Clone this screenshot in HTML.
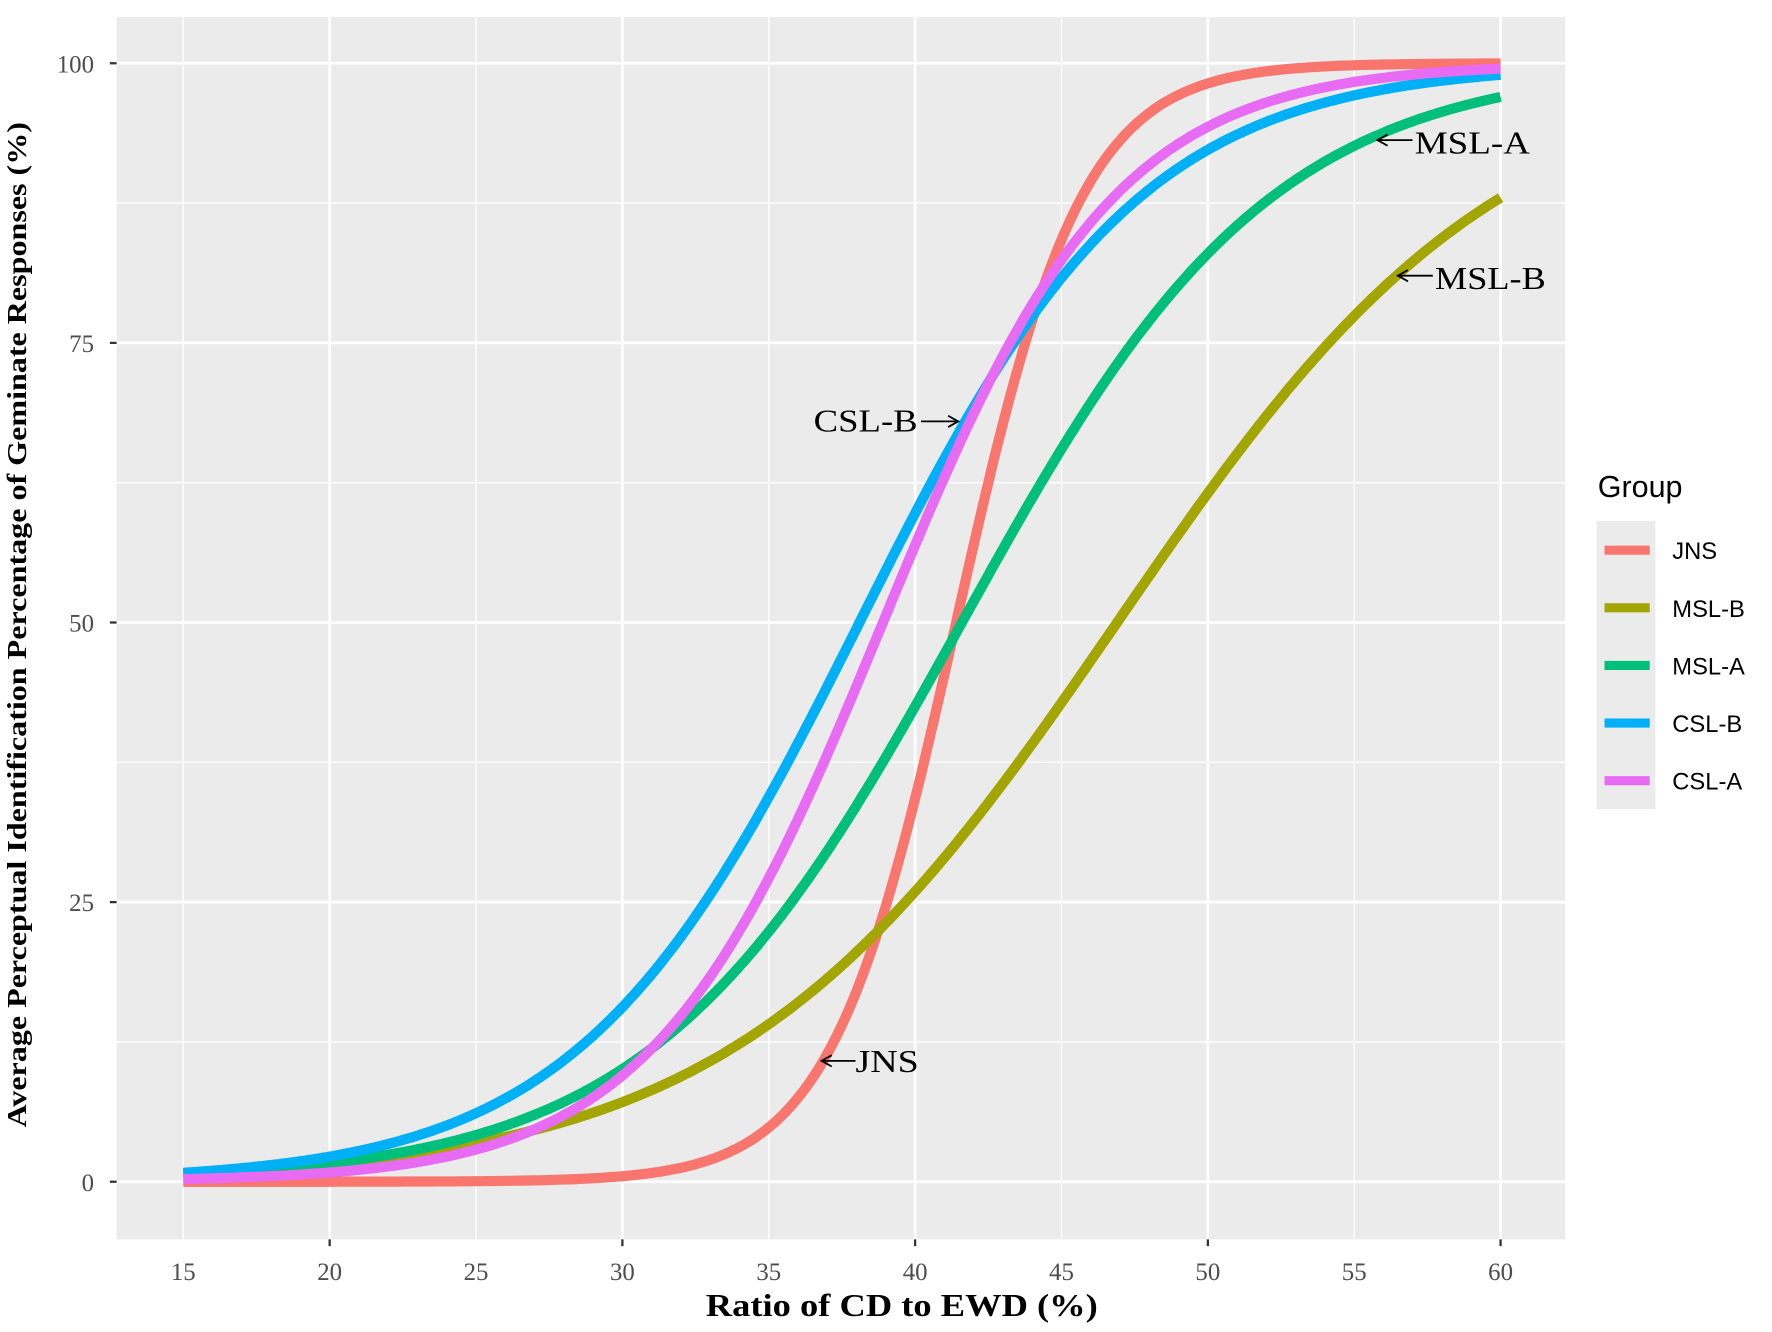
<!DOCTYPE html>
<html><head><meta charset="utf-8"><style>
html,body{margin:0;padding:0;background:#fff;width:1772px;height:1332px;overflow:hidden}
svg{display:block}
.serif{font-family:"Liberation Serif",serif}
.sans{font-family:"Liberation Sans",sans-serif}
</style></head><body>
<svg id="s" width="1772" height="1332" viewBox="0 0 1568 1179" xmlns="http://www.w3.org/2000/svg">
<rect x="0" y="0" width="1568" height="1179" fill="#fff"/>
<rect x="103" y="15" width="1282" height="1082" fill="#ebebeb"/>
<g id="grid"></g>
<g id="curves" fill="none" stroke-width="9" stroke-linecap="butt"></g>
<g class="serif" font-size="28" fill="#000">
<text x="1252" y="136" textLength="102" lengthAdjust="spacingAndGlyphs">MSL-A</text>
<text x="1270" y="256" textLength="98" lengthAdjust="spacingAndGlyphs">MSL-B</text>
<text x="720" y="382" textLength="92" lengthAdjust="spacingAndGlyphs">CSL-B</text>
<text x="757" y="949" textLength="56" lengthAdjust="spacingAndGlyphs">JNS</text>
</g>
<g stroke="#000" stroke-width="1.6" fill="none">
<path d="M1250 124 H1220 M1228 119 L1219 124 L1228 129"/>
<path d="M1268 244 H1238 M1246 239 L1237 244 L1246 249"/>
<path d="M815 373 H847 M839 368 L848 373 L839 378"/>
<path d="M757 939 H728 M736 934 L727 939 L736 944"/>
</g>
<g id="axes" class="serif" font-size="22" fill="#4d4d4d"></g>
<text class="serif" x="798" y="1165" font-size="28" font-weight="bold" text-anchor="middle" textLength="347" lengthAdjust="spacingAndGlyphs">Ratio of CD to EWD (%)</text>
<text class="serif" font-size="24" font-weight="bold" text-anchor="middle" textLength="890" lengthAdjust="spacingAndGlyphs" transform="translate(23 553) rotate(-90)">Average Perceptual Identification Percentage of Geminate Responses (%)</text>
<text class="sans" x="1414" y="440" font-size="27">Group</text>
<rect x="1413" y="461" width="52" height="255" fill="#ebebeb"/>
<g id="leg" class="sans" font-size="21" fill="#000"></g>
</svg>
<script>
var NS="http://www.w3.org/2000/svg";
function X(v){return 162+(v-15)*1166/45}
function Y(v){return 1046-v*9.9}
function el(p,t,a,txt){var e=document.createElementNS(NS,t);for(var k in a)e.setAttribute(k,a[k]);if(txt!=null)e.textContent=txt;document.getElementById(p).appendChild(e);return e}
for(var v=15;v<=60;v+=5){var maj=(v%10==0);el("grid","line",{x1:X(v),x2:X(v),y1:15,y2:1097,stroke:"#fff","stroke-width":maj?2.4:1.2});}
for(var v=0;v<=100;v+=12.5){var maj=(v%25==0);el("grid","line",{x1:103,x2:1385,y1:Y(v),y2:Y(v),stroke:"#fff","stroke-width":maj?2.4:1.2});}
for(var v=15;v<=60;v+=5){el("axes","text",{x:X(v),y:1133,"text-anchor":"middle"},v); if(v%10==0) el("axes","line",{x1:X(v),x2:X(v),y1:1097,y2:1103,stroke:"#333","stroke-width":2});}
for(var v=0;v<=100;v+=25){el("axes","text",{x:83,y:Y(v)+8,"text-anchor":"end"},v);el("axes","line",{x1:97,x2:103,y1:Y(v),y2:Y(v),stroke:"#333","stroke-width":2});}
var S=[["#F8766D",41.4,2.15,"JNS"],["#A3A500",46.9,6.58,"MSL-B"],["#00BF7D",41.6,5.3,"MSL-A"],["#00B0F6",38.1,4.8,"CSL-B"],["#E76BF3",38.9,3.95,"CSL-A"]];
S.forEach(function(s,i){var d="";for(var x=15;x<=60.001;x+=0.1){var p=100/(1+Math.exp(-(x-s[1])/s[2]));d+=(x==15?"M":"L")+X(x).toFixed(1)+" "+Y(p).toFixed(1);}
el("curves","path",{d:d,stroke:s[0]});
var y=487+i*51;el("leg","line",{x1:1420,x2:1460,y1:y,y2:y,stroke:s[0],"stroke-width":8});
el("leg","text",{x:1480,y:y+8},s[3]);});
</script>
</body></html>
